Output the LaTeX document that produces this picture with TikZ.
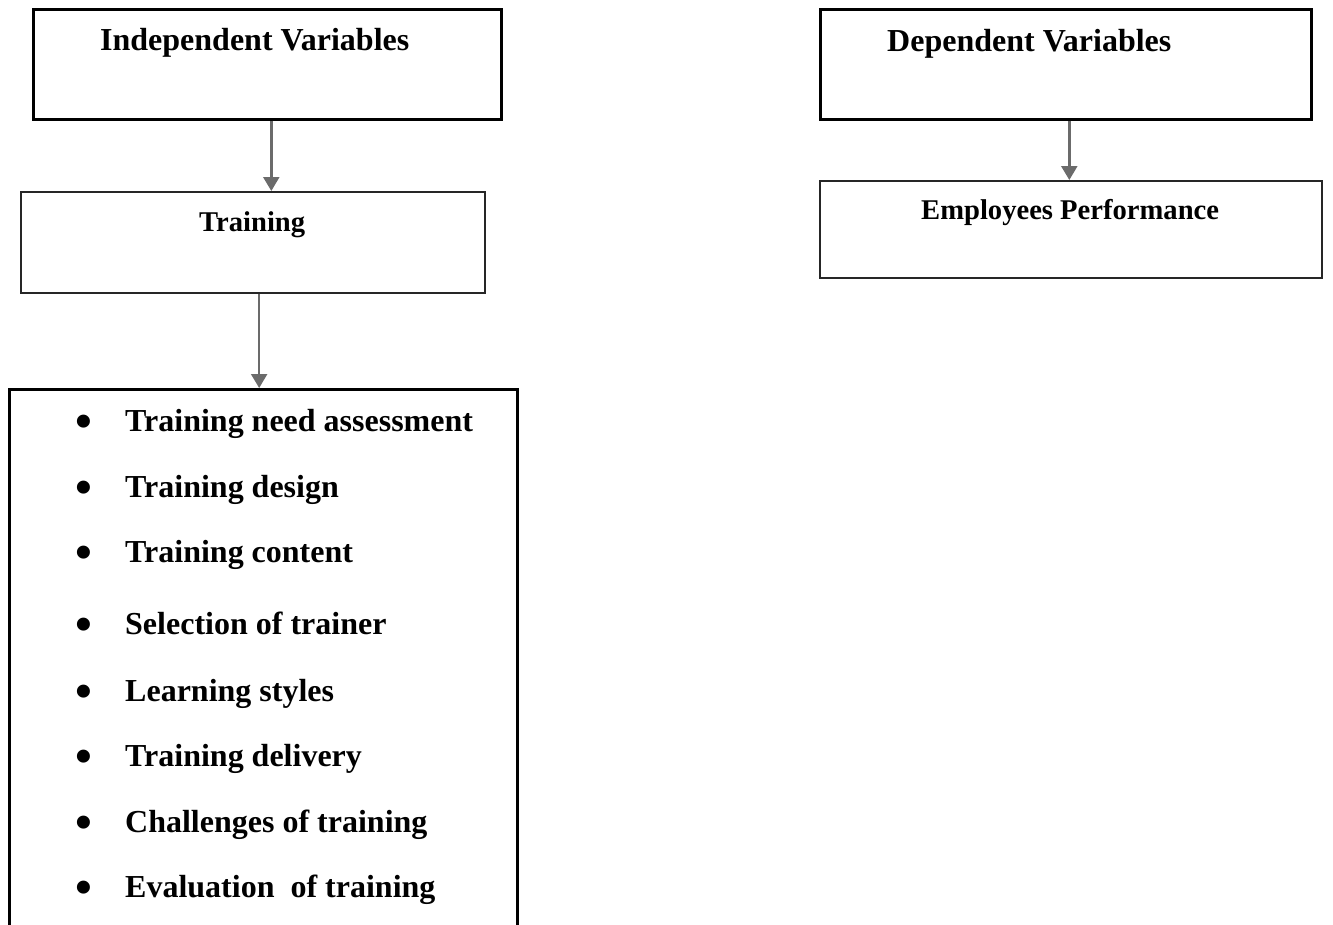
\documentclass[tikz,border=0pt]{standalone}
\usepackage{fontspec}
\setmainfont{Liberation Serif}
\usetikzlibrary{arrows.meta}
\tikzset{
  box/.style={draw, line width=2.6pt, anchor=north west, inner sep=0pt},
  subbox/.style={draw=black!85, line width=2.3pt, anchor=north west, inner sep=0pt},
  flow/.style={draw=black!58, line width=2.4pt, -{Triangle[width=16pt,length=14pt]}},
  dot/.style={anchor=base west, inner sep=0pt, font=\bfseries\fontsize{48}{52}\selectfont},
  head/.style={anchor=base west, inner sep=0pt, font=\bfseries\fontsize{32}{38}\selectfont},
  subhead/.style={anchor=base west, inner sep=0pt, font=\bfseries\fontsize{28.6}{34}\selectfont},
}
\begin{document}
\begin{tikzpicture}[x=1pt,y=1pt]
  \useasboundingbox (0,0) rectangle (1333,-924);
  \clip (0,0) rectangle (1333,-924);

  % independent side
  \node[box, minimum width=468, minimum height=110] (iv) at (32,-8) {};
  \node[head] (ivtext) at (100,-50) {Independent Variables};
  \node[subbox, minimum width=464, minimum height=101] (train) at (20,-191) {};
  \node[subhead] (traintext) at (199,-231) {Training};
  \node[box, minimum width=508, minimum height=560] (list) at (8,-388) {};

  \foreach \y/\txt [count=\i] in {431/Training need assessment, 497/Training design,
    562/Training content, 634/Selection of trainer, 701/Learning styles,
    766/Training delivery, 832/Challenges of training, 897/{Evaluation\ \ of training}}
  {
    \pgfmathsetmacro{\by}{-\y-6.5};
    \node[dot] (bul\i) at (75,\by) {\textbullet};
    \node[head] (item\i) at (125,-\y) {\txt};
  }

  % dependent side
  \node[box, minimum width=491, minimum height=110] (dv) at (819,-8) {};
  \node[head] (dvtext) at (887,-51) {Dependent Variables};
  \node[subbox, minimum width=502, minimum height=97] (perf) at (819,-180) {};
  \node[subhead] (perftext) at (921,-219) {Employees Performance};

  % arrows
  \draw[flow] ([xshift=4]iv.south) -- ([xshift=4]iv.south |- train.north);
  \draw[flow] ([xshift=6]train.south) -- ([xshift=6]train.south |- list.north);
  \draw[flow] ([xshift=3.5]dv.south) -- ([xshift=3.5]dv.south |- perf.north);

\end{tikzpicture}
\end{document}
